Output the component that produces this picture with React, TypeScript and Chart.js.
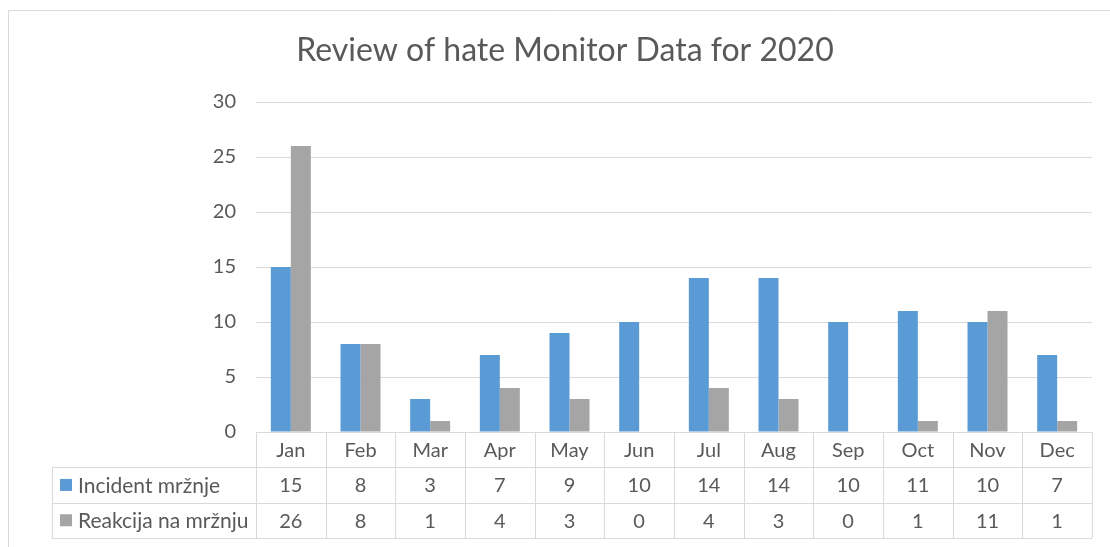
import React, { useEffect, useRef } from "react";
import { Chart, registerables } from "chart.js";

Chart.register(...registerables);

const title = "Review of hate Monitor Data for 2020";
const categories = ["Jan", "Feb", "Mar", "Apr", "May", "Jun", "Jul", "Aug", "Sep", "Oct", "Nov", "Dec"];
const seriesNames = ["Incident mržnje", "Reakcija na mržnju"];
const incidentValues = [15, 8, 3, 7, 9, 10, 14, 14, 10, 11, 10, 7];
const reactionValues = [26, 8, 1, 4, 3, 0, 4, 3, 0, 1, 11, 1];
const yMin = 0;
const yMax = 30;
const yStep = 5;

const FONT = "Lato, 'Open Sans', sans-serif";
const TEXT = "#595959";
const LINE = "#D9D9D9";
const COLORS = ["#5B9BD5", "#A5A5A5"];

const framePlugin = {
  id: "frame",
  beforeDraw(chart: any) {
    const ctx = chart.ctx;
    ctx.save();
    ctx.fillStyle = "#FFFFFF";
    ctx.fillRect(0, 0, chart.width, chart.height);
    ctx.strokeStyle = LINE;
    ctx.lineWidth = 1;
    ctx.beginPath();
    ctx.moveTo(8.5, chart.height);
    ctx.lineTo(8.5, 10.5);
    ctx.lineTo(chart.width, 10.5);
    ctx.stroke();
    ctx.restore();
  },
};

const tablePlugin = {
  id: "dataTable",
  afterDraw(chart: any) {
    const ctx = chart.ctx;
    const area = chart.chartArea;
    const xs = chart.scales.x;
    const n = chart.data.labels.length;
    const colW = (area.right - area.left) / n;
    const top = area.bottom;
    const rowH = 35.3;
    const legendLeft = 52;
    const rows = chart.data.datasets.length;
    const bottom = top + rowH * (rows + 1);

    ctx.save();
    ctx.strokeStyle = LINE;
    ctx.lineWidth = 1;
    ctx.beginPath();
    for (let r = 1; r <= rows + 1; r++) {
      const y = Math.round(top + rowH * r) + 0.5;
      ctx.moveTo(legendLeft, y);
      ctx.lineTo(area.right, y);
    }
    for (let i = 0; i <= n; i++) {
      const x = Math.round(area.left + colW * i) + 0.5;
      ctx.moveTo(x, top);
      ctx.lineTo(x, bottom);
    }
    ctx.moveTo(legendLeft + 0.5, top + rowH);
    ctx.lineTo(legendLeft + 0.5, bottom);
    ctx.stroke();

    ctx.fillStyle = TEXT;
    ctx.font = `20px ${FONT}`;
    ctx.textAlign = "center";
    ctx.textBaseline = "middle";
    chart.data.labels.forEach((lab: string, i: number) => {
      ctx.fillText(lab, xs.getPixelForValue(i), top + rowH / 2 + 1);
    });
    chart.data.datasets.forEach((ds: any, r: number) => {
      const cy = top + rowH * (r + 1) + rowH / 2 + 1;
      ctx.textAlign = "center";
      ctx.fillStyle = TEXT;
      ctx.font = `20px ${FONT}`;
      ds.data.forEach((v: number, i: number) => {
        ctx.fillText(String(v), xs.getPixelForValue(i), cy);
      });
      ctx.fillStyle = ds.backgroundColor;
      ctx.fillRect(60, cy - 7, 12, 12);
      ctx.fillStyle = TEXT;
      ctx.textAlign = "left";
      ctx.font = `21px ${FONT}`;
      ctx.fillText(ds.label, 78, cy);
    });
    ctx.restore();
  },
};

export default function App() {
  const ref = useRef<HTMLCanvasElement | null>(null);
  useEffect(() => {
    if (!ref.current) return;
    const chart = new Chart(ref.current, {
      type: "bar",
      data: {
        labels: categories,
        datasets: [
          { label: seriesNames[0], data: incidentValues, backgroundColor: COLORS[0] },
          { label: seriesNames[1], data: reactionValues, backgroundColor: COLORS[1] },
        ],
      },
      options: {
        responsive: false,
        animation: false,
        layout: { padding: { left: 38, right: 18, top: 0, bottom: 115 } },
        datasets: { bar: { categoryPercentage: 0.574, barPercentage: 1 } },
        plugins: {
          legend: { display: false },
          tooltip: { enabled: false },
          title: {
            display: true,
            text: title,
            color: TEXT,
            font: { family: FONT, size: 32, weight: "normal", lineHeight: 1.2 },
            padding: { top: 31, bottom: 32.6 },
          },
        },
        scales: {
          x: { display: false },
          y: {
            min: yMin,
            max: yMax,
            ticks: { stepSize: yStep, padding: 20, color: TEXT, font: { family: FONT, size: 20 } },
            grid: { color: LINE, drawTicks: false },
            border: { display: false },
            afterFit: (scale: any) => {
              scale.width = 218;
            },
          },
        },
      },
      plugins: [framePlugin, tablePlugin],
    } as any);
    return () => chart.destroy();
  }, []);
  return (
    <div style={{ position: "fixed", left: 0, top: 0, width: 1110, height: 547, overflow: "hidden", background: "#fff" }}>
      <canvas ref={ref} width={1110} height={547} style={{ display: "block" }} />
    </div>
  );
}
